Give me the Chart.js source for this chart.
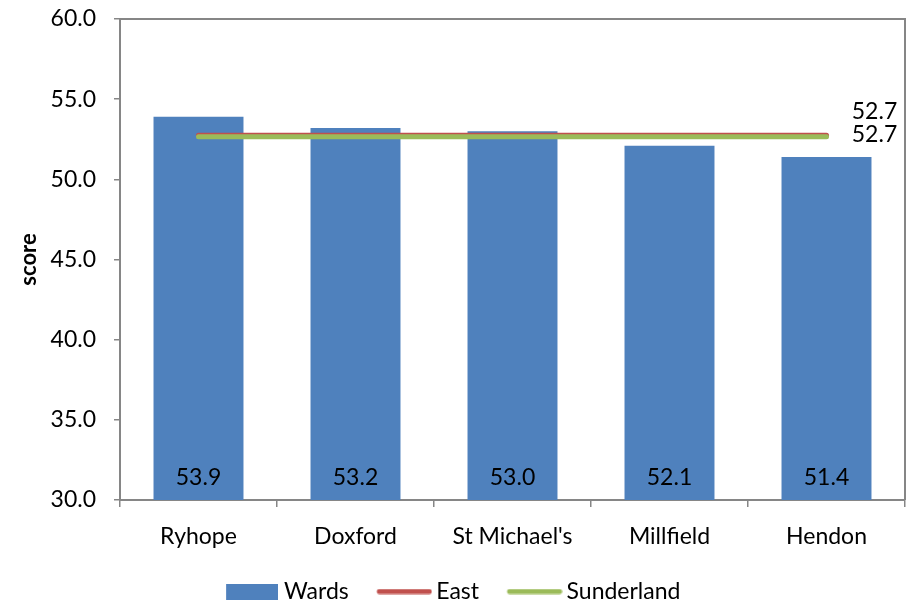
<!DOCTYPE html>
<html>
<head>
<meta charset="utf-8">
<script src="https://cdn.jsdelivr.net/npm/chart.js@4"></script>
<style>
  html, body { margin: 0; padding: 0; background: #fff; }
  #wrap { width: 911px; height: 600px; }
</style>
</head>
<body>
<div id="wrap"><canvas id="score"></canvas></div>
<script>
// ward scores vs East and Sunderland averages
const wards = ["Ryhope", "Doxford", "St Michael's", "Millfield", "Hendon"];
const wardScores = [53.9, 53.2, 53.0, 52.1, 51.4];
const eastScores = [52.745, 52.745, 52.745, 52.745, 52.745];
const sunderlandScores = [52.655, 52.655, 52.655, 52.655, 52.655];
const yTicks = [30, 35, 40, 45, 50, 55, 60];

const FONT = 'Lato, "Open Sans", sans-serif';

// little pictures for the legend keys (transparent margin on the left)
const KEY_MARGIN = 25;
function keyBox(w, h, colour) {
  const c = document.createElement('canvas');
  c.width = w + KEY_MARGIN; c.height = h;
  const g = c.getContext('2d');
  g.fillStyle = colour;
  g.fillRect(KEY_MARGIN, 0, w, h);
  return c;
}
function keyLine(w, colour) {
  const c = document.createElement('canvas');
  c.width = w + KEY_MARGIN; c.height = 6;
  const g = c.getContext('2d');
  g.strokeStyle = colour;
  g.lineWidth = 5;
  g.lineCap = 'round';
  g.beginPath(); g.moveTo(KEY_MARGIN + 3, 3); g.lineTo(KEY_MARGIN + w - 3, 3); g.stroke();
  return c;
}
const keys = [keyBox(52, 16, '#4F81BD'), keyLine(56, '#C0504D'), keyLine(56, '#9BBB59')];

const valueLabels = {
  id: 'valueLabels',
  afterDatasetsDraw(chart) {
    const ctx = chart.ctx;
    const area = chart.chartArea;
    ctx.save();
    ctx.font = '23px ' + FONT;
    ctx.fillStyle = '#000';
    ctx.textAlign = 'center';
    ctx.textBaseline = 'middle';
    chart.getDatasetMeta(0).data.forEach((bar, i) => {
      ctx.fillText(wardScores[i].toFixed(1), bar.x, area.bottom - 22);
    });
    const e = chart.getDatasetMeta(1).data[4];
    ctx.fillText(eastScores[4].toFixed(1), e.x + 48, e.y - 24);
    const s = chart.getDatasetMeta(2).data[4];
    ctx.fillText(sunderlandScores[4].toFixed(1), s.x + 48, s.y - 2);
    ctx.restore();
  }
};

const plotBox = {
  id: 'plotBox',
  afterLayout(chart) {
    // nudge the legend a little left, as in the original
    if (chart.legend) { chart.legend.left -= 9; chart.legend.right -= 9; }
  },
  afterDraw(chart) {
    const a = chart.chartArea;
    const ctx = chart.ctx;
    ctx.save();
    ctx.strokeStyle = '#868686';
    ctx.lineWidth = 2;
    ctx.beginPath();
    ctx.moveTo(a.left, a.top);
    ctx.lineTo(a.right, a.top);
    ctx.lineTo(a.right, a.bottom);
    ctx.stroke();
    ctx.restore();
  }
};

new Chart(document.getElementById('score'), {
  type: 'bar',
  data: {
    labels: wards,
    datasets: [{
      label: 'Wards',
      data: wardScores,
      backgroundColor: '#4F81BD',
      barPercentage: 0.573,
      categoryPercentage: 1,
      order: 3
    }, {
      type: 'line',
      label: 'East',
      data: eastScores,
      borderColor: '#C0504D',
      backgroundColor: '#C0504D',
      borderWidth: 5,
      borderCapStyle: 'round',
      pointRadius: 0,
      order: 2
    }, {
      type: 'line',
      label: 'Sunderland',
      data: sunderlandScores,
      borderColor: '#9BBB59',
      backgroundColor: '#9BBB59',
      borderWidth: 5,
      borderCapStyle: 'round',
      pointRadius: 0,
      order: 1
    }]
  },
  options: {
    responsive: true,
    maintainAspectRatio: false,
    animation: false,
    layout: { padding: { top: 19, right: 6, left: 0, bottom: -13 } },
    plugins: {
      tooltip: { enabled: false },
      legend: {
        position: 'bottom',
        labels: {
          color: '#000',
          font: { family: FONT, size: 23, lineHeight: 1 },
          usePointStyle: true,
          pointStyleWidth: 66,
          padding: 10,
          sort: (a, b) => a.datasetIndex - b.datasetIndex,
          generateLabels(chart) {
            const items = Chart.defaults.plugins.legend.labels.generateLabels(chart);
            items.forEach(it => { it.pointStyle = keys[it.datasetIndex]; });
            return items;
          }
        }
      }
    },
    scales: {
      x: {
        grid: { drawOnChartArea: false, color: '#868686', tickLength: 7, lineWidth: 1.5 },
        border: { color: '#868686', width: 2 },
        ticks: { color: '#000', font: { family: FONT, size: 23 }, padding: 16 },
        afterFit(s) { s.height = 70; }
      },
      y: {
        min: 30,
        max: 60,
        afterBuildTicks(s) { s.ticks = yTicks.map(v => ({ value: v })); },
        grid: { drawOnChartArea: false, color: '#868686', tickLength: 6, lineWidth: 1.5 },
        border: { color: '#868686', width: 2 },
        ticks: {
          color: '#000',
          font: { family: FONT, size: 23 },
          padding: 18,
          callback: v => Number(v).toFixed(1)
        },
        title: {
          display: true,
          text: 'score',
          color: '#000',
          font: { family: FONT, size: 22, weight: 'bold' },
          padding: { top: 16, bottom: 0 }
        },
        afterFit(s) { s.width = 120; s.paddingTop = 0; s.paddingBottom = 0; }
      }
    }
  },
  plugins: [valueLabels, plotBox]
});
</script>
</body>
</html>
